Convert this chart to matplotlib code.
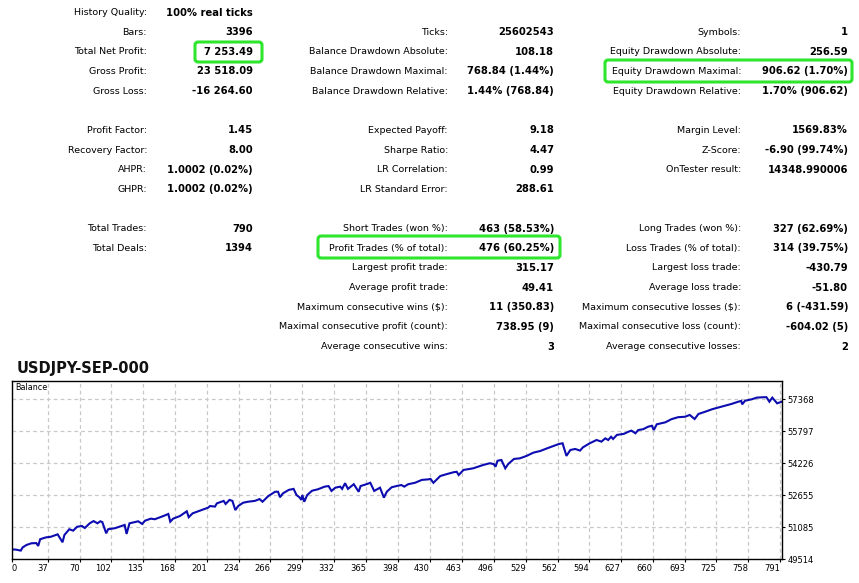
import matplotlib
matplotlib.use("Agg")
import matplotlib.pyplot as plt
from matplotlib.patches import FancyBboxPatch

# report table: one list per column, None = empty row
col1_labels = ["History Quality:", "Bars:", "Total Net Profit:", "Gross Profit:", "Gross Loss:", None,
               "Profit Factor:", "Recovery Factor:", "AHPR:", "GHPR:", None,
               "Total Trades:", "Total Deals:"]
col1_values = ["100% real ticks", "3396", "7 253.49", "23 518.09", "-16 264.60", None,
               "1.45", "8.00", "1.0002 (0.02%)", "1.0002 (0.02%)", None,
               "790", "1394"]

col2_labels = [None, "Ticks:", "Balance Drawdown Absolute:", "Balance Drawdown Maximal:",
               "Balance Drawdown Relative:", None,
               "Expected Payoff:", "Sharpe Ratio:", "LR Correlation:", "LR Standard Error:", None,
               "Short Trades (won %):", "Profit Trades (% of total):", "Largest profit trade:",
               "Average profit trade:", "Maximum consecutive wins ($):",
               "Maximal consecutive profit (count):", "Average consecutive wins:"]
col2_values = [None, "25602543", "108.18", "768.84 (1.44%)", "1.44% (768.84)", None,
               "9.18", "4.47", "0.99", "288.61", None,
               "463 (58.53%)", "476 (60.25%)", "315.17", "49.41", "11 (350.83)",
               "738.95 (9)", "3"]

col3_labels = [None, "Symbols:", "Equity Drawdown Absolute:", "Equity Drawdown Maximal:",
               "Equity Drawdown Relative:", None,
               "Margin Level:", "Z-Score:", "OnTester result:", None, None,
               "Long Trades (won %):", "Loss Trades (% of total):", "Largest loss trade:",
               "Average loss trade:", "Maximum consecutive losses ($):",
               "Maximal consecutive loss (count):", "Average consecutive losses:"]
col3_values = [None, "1", "256.59", "906.62 (1.70%)", "1.70% (906.62)", None,
               "1569.83%", "-6.90 (99.74%)", "14348.990006", None, None,
               "327 (62.69%)", "314 (39.75%)", "-430.79", "-51.80", "6 (-431.59)",
               "-604.02 (5)", "2"]

# balance curve
trade_no = [0, 4, 9, 11, 15, 20, 25, 27, 29, 35,
            40, 47, 52, 54, 59, 63, 67, 72, 75, 80,
            84, 88, 91, 93, 97, 99, 106, 113, 116, 118,
            121, 130, 134, 137, 143, 147, 156, 161, 163, 166,
            173, 180, 182, 186, 193, 198, 202, 204, 209, 211,
            218, 220, 224, 227, 230, 233, 238, 243, 250, 255,
            258, 264, 271, 274, 276, 279, 285, 290, 293, 296,
            298, 299, 301, 304, 309, 315, 322, 326, 329, 333,
            338, 340, 343, 346, 352, 357, 359, 365, 369, 373,
            379, 383, 386, 391, 396, 401, 404, 408, 415, 422,
            429, 431, 434, 441, 448, 455, 458, 460, 465, 475,
            485, 492, 496, 498, 500, 504, 508, 511, 517, 523,
            530, 537, 544, 551, 558, 563, 567, 571, 575, 580,
            585, 588, 595, 602, 607, 611, 614, 617, 619, 623,
            630, 635, 638, 642, 645, 650, 655, 659, 661, 664,
            673, 679, 686, 693, 698, 703, 707, 714, 721, 727,
            734, 741, 748, 751, 752, 755, 762, 767, 774, 777,
            780, 783, 786, 788, 793]
balance = [50000, 49990, 49940, 50100, 50220, 50300, 50310, 50170, 50500, 50590,
           50620, 50740, 50350, 50710, 50990, 50920, 51110, 51150, 51050, 51280,
           51390, 51280, 51380, 51340, 50790, 50990, 51040, 51150, 51200, 50760,
           51280, 51380, 51250, 51410, 51510, 51480, 51640, 51740, 51360, 51510,
           51640, 51870, 51580, 51770, 51890, 51970, 52050, 52130, 52100, 52260,
           52380, 52230, 52430, 52380, 51930, 52130, 52290, 52340, 52380, 52470,
           52340, 52620, 52830, 52830, 52560, 52750, 52920, 52970, 52670, 52560,
           52430, 52670, 52340, 52670, 52880, 52950, 53080, 53110, 52870, 53030,
           53080, 52970, 53250, 52970, 53200, 52830, 53110, 53200, 53270, 52870,
           53030, 52540, 52830, 53050, 53110, 53160, 53080, 53200, 53270, 53410,
           53440, 53460, 53270, 53600, 53700, 53790, 53810, 53650, 53900, 53980,
           54140, 54230, 54190, 54060, 54350, 54390, 53980, 54190, 54440, 54470,
           54590, 54750, 54830, 54960, 55080, 55170, 55210, 54590, 54880, 54930,
           54850, 55010, 55210, 55370, 55290, 55450, 55370, 55530, 55420, 55620,
           55670, 55780, 55830, 55700, 55860, 55900, 56020, 56070, 55860, 56140,
           56240, 56390, 56490, 56510, 56600, 56400, 56650, 56760, 56880, 56960,
           57050, 57140, 57250, 57290, 57120, 57300, 57370, 57450, 57470, 57470,
           57250, 57450, 57280, 57170, 57253.49]

x_ticks = [0, 37, 70, 102, 135, 168, 201, 234, 266, 299, 332, 365, 398, 430,
           463, 496, 529, 562, 594, 627, 660, 693, 725, 758, 791]
y_ticks = [49514, 51085, 52655, 54226, 55797, 57368]

W, H = 859, 583
fig = plt.figure(figsize=(W / 100, H / 100), dpi=100)
fig.patch.set_facecolor("white")

# overlay axes in pixel coordinates for the report text
top = fig.add_axes([0, 0, 1, 1])
top.set_xlim(0, W)
top.set_ylim(H, 0)
top.axis("off")

def row_y(i):
    return 12.5 + i * 19.65

columns = [(col1_labels, col1_values, 147, 253),
           (col2_labels, col2_values, 448, 554),
           (col3_labels, col3_values, 741, 848)]
for labels, values, lx, vx in columns:
    for i, (lab, val) in enumerate(zip(labels, values)):
        if lab is None:
            continue
        y = row_y(i)
        top.text(lx, y, lab, ha="right", va="center", fontsize=6.8, color="black")
        top.text(vx, y, val, ha="right", va="center", fontsize=7.2,
                 fontweight="bold", color="black")

# green highlight boxes
for (x0, y0, x1, y1) in [(195, 42, 262, 62), (605, 60, 852, 82), (318, 236, 560, 258)]:
    box = FancyBboxPatch((x0, y0), x1 - x0, y1 - y0,
                         boxstyle="round,pad=0,rounding_size=3",
                         fill=False, edgecolor="#2fe62f", linewidth=2.2)
    top.add_patch(box)

top.text(17, 369, "USDJPY-SEP-000", ha="left", va="center",
         fontsize=10.5, fontweight="bold", color="#111111")

# balance chart
ax = fig.add_axes([12 / W, 1 - 559.3 / H, 770 / W, 178.6 / H])
ax.plot(trade_no, balance, color="#0c0cb0", linewidth=1.5, solid_joinstyle="miter")
ax.set_xlim(0, 793)
ax.set_ylim(49514, 58281)
ax.set_xticks(x_ticks)
ax.set_xticklabels([str(v) for v in x_ticks])
ax.set_yticks(y_ticks)
ax.set_yticklabels([str(v) for v in y_ticks])
ax.yaxis.tick_right()
ax.tick_params(axis="both", labelsize=6, direction="out", length=2.2, width=0.8,
               colors="black")
ax.tick_params(axis="x", pad=1)
ax.tick_params(axis="y", pad=2)
for i, lbl in enumerate(ax.get_xticklabels()):
    lbl.set_ha("left" if i == 0 else "right")
ax.grid(True, color="#c8c8c8", linestyle=(0, (3, 2.5)), linewidth=0.9)
ax.set_axisbelow(True)
for sp in ax.spines.values():
    sp.set_linewidth(1.0)
    sp.set_color("black")

top.text(15.5, 388, "Balance", ha="left", va="center", fontsize=5.8, color="black")
top.set_zorder(3)

fig.savefig("out.png", dpi=100, facecolor="white")
